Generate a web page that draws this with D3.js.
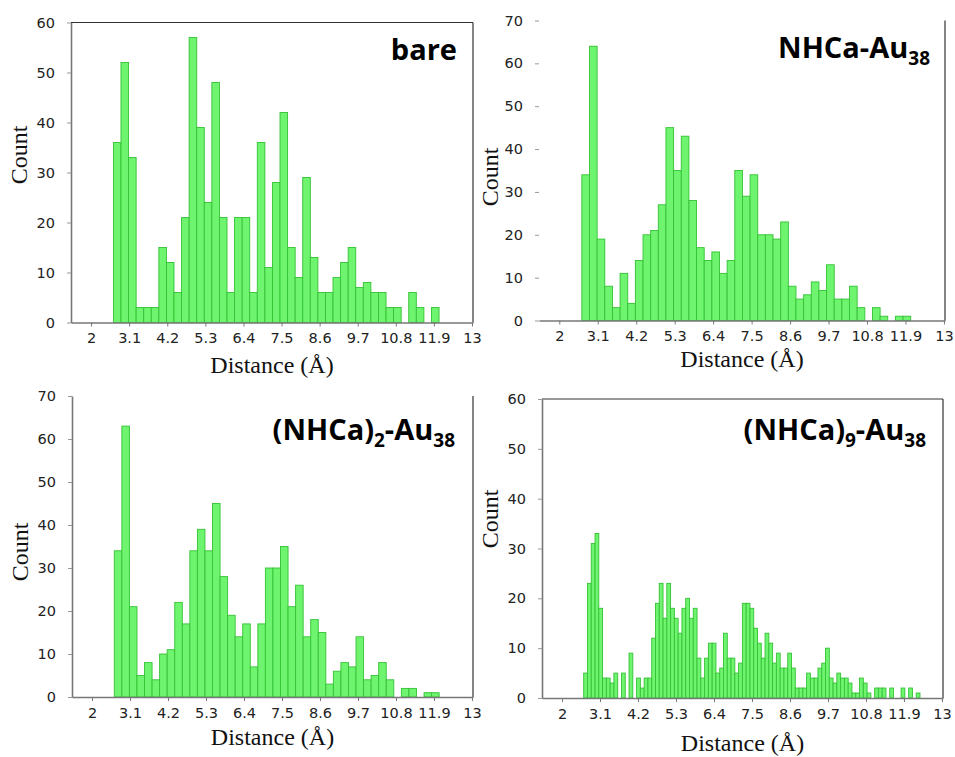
<!DOCTYPE html>
<html>
<head>
<meta charset="utf-8">
<script src="https://cdn.jsdelivr.net/npm/d3@7"></script>
<style>
  html, body { margin: 0; padding: 0; background: #fff; }
  svg { display: block; }
</style>
</head>
<body>
<svg id="chart" width="955" height="757"></svg>
<script>
// ---------------- data ----------------
const xTicks = [2, 3.1, 4.2, 5.3, 6.4, 7.5, 8.6, 9.7, 10.8, 11.9, 13];
const yTicks60 = [0, 10, 20, 30, 40, 50, 60];
const yTicks70 = [0, 10, 20, 30, 40, 50, 60, 70];

// histogram bins: first bin edge (Å) and bin width (Å)
const binStartCoarse = 2.645, binWidthCoarse = 0.2187;
const binStartFine = 2.627, binWidthFine = 0.1094;

const bareCounts = [36,52,33,3,3,3,15,12,6,21,57,39,24,48,21,6,21,21,6,36,11,28,42,15,9,29,13,6,6,9,12,15,7,8,6,6,3,3,0,6,3,0,3];
const nhca1Counts = [34,64,19,8,3,11,4,14,20,21,27,45,35,43,28,17,14,16,11,14,35,29,34,20,20,19,23,8,5,6,9,7,13,5,5,8,3,0,3,1,0,1,1];
const nhca2Counts = [34,63,21,5,8,4,10,11,22,17,34,39,34,45,28,19,14,17,7,17,30,30,35,21,26,14,18,15,3,6,8,7,14,4,5,8,4,0,2,2,0,1,1];
const nhca9Counts = [5,23,31,33,18,4,4,3,5,0,5,0,9,0,4,2,4,4,12,19,
                     23,16,23,18,16,13,18,20,16,18,8,4,8,11,11,5,6,13,8,8,
                     5,7,19,19,18,14,11,8,13,11,7,9,6,6,9,6,2,2,2,
                     5,4,4,6,7,10,4,3,5,4,4,3,1,1,4,3,1,0,2,2,2,0,2,0,0,2,0,2,0,1];

const xDomain = [1.42, 13.03];
const xLabel = "Distance (Å)";
const yLabel = "Count";

// ---------------- layout ----------------
const panels = [
  { counts: bareCounts, start: binStartCoarse, width: binWidthCoarse, yMax: 60, yTicks: yTicks60,
    x0: 71, x1: 473, yT: 22.5, yB: 322.5,
    title: [{t: "bare"}], titleX: 457, titleY: 60,
    frame: {left: true, top: true, right: true}, countX: 19, countY: 155, distY: 373 },
  { counts: nhca1Counts, start: binStartCoarse, width: binWidthCoarse, yMax: 70, yTicks: yTicks70,
    x0: 539, x1: 945, yT: 20.5, yB: 320.5,
    title: [{t: "NHCa-Au"}, {t: "38", sub: true}], titleX: 930, titleY: 58,
    frame: {left: false, top: false, right: true}, countX: 490, countY: 177, distY: 367 },
  { counts: nhca2Counts, start: binStartCoarse, width: binWidthCoarse, yMax: 70, yTicks: yTicks70,
    x0: 72, x1: 473, yT: 396, yB: 697,
    title: [{t: "(NHCa)"}, {t: "2", sub: true}, {t: "-Au"}, {t: "38", sub: true}], titleX: 455, titleY: 440,
    frame: {left: true, top: false, right: true}, countX: 20, countY: 552, distY: 745 },
  { counts: nhca9Counts, start: binStartFine, width: binWidthFine, yMax: 60, yTicks: yTicks60,
    x0: 542, x1: 943, yT: 399, yB: 698,
    title: [{t: "(NHCa)"}, {t: "9", sub: true}, {t: "-Au"}, {t: "38", sub: true}], titleX: 926, titleY: 440,
    frame: {left: true, top: true, right: true}, countX: 490, countY: 519, distY: 751 }
];

const svg = d3.select("#chart");
svg.append("rect").attr("width", 955).attr("height", 757).attr("fill", "#fff");

panels.forEach(p => {
  const g = svg.append("g");
  const x = d3.scaleLinear().domain(xDomain).range([p.x0, p.x1]);
  const y = d3.scaleLinear().domain([0, p.yMax]).range([p.yB, p.yT]);

  // bars
  const bins = p.counts.map((c, i) => ({ x0: p.start + i * p.width, x1: p.start + (i + 1) * p.width, c }))
                       .filter(d => d.c > 0);
  g.append("g").selectAll("rect").data(bins).join("rect")
    .attr("x", d => x(d.x0))
    .attr("width", d => x(d.x1) - x(d.x0))
    .attr("y", d => y(d.c))
    .attr("height", d => y(0) - y(d.c))
    .attr("fill", "#6ff46f")
    .attr("stroke", "#34c234")
    .attr("stroke-width", 0.9);

  // frame lines
  if (p.frame.top) {
    g.append("line").attr("x1", p.x0).attr("x2", p.x1).attr("y1", p.yT).attr("y2", p.yT)
      .attr("stroke", "#333").attr("stroke-width", 1.2);
  }
  if (p.frame.right) {
    g.append("line").attr("x1", p.x1).attr("x2", p.x1).attr("y1", p.yT).attr("y2", p.yB)
      .attr("stroke", "#333").attr("stroke-width", 1.2);
  }

  // x axis
  const xa = g.append("g").attr("transform", `translate(0,${p.yB})`)
    .call(d3.axisBottom(x).tickValues(xTicks).tickFormat(d => String(d))
      .tickSize(4).tickSizeOuter(0).tickPadding(6.5));
  xa.attr("font-family", "DejaVu Sans").attr("font-size", 14.5);
  xa.select(".domain").attr("stroke", "#777").attr("stroke-width", 1.6);
  xa.selectAll(".tick line").attr("stroke", "#777");
  xa.selectAll("text").style("font-family", "'DejaVu Sans'").style("font-size", "14.5px").attr("fill", "#222");

  // y axis
  const ya = g.append("g").attr("transform", `translate(${p.x0},0)`)
    .call(d3.axisLeft(y).tickValues(p.yTicks).tickFormat(d => String(d))
      .tickSize(4).tickSizeOuter(0).tickPadding(12));
  ya.attr("font-family", "DejaVu Sans").attr("font-size", 14.5);
  ya.select(".domain").attr("stroke", p.frame.left ? "#777" : "none").attr("stroke-width", 1.6);
  ya.selectAll(".tick line").attr("stroke", "#999");
  ya.selectAll("text").style("font-family", "'DejaVu Sans'").style("font-size", "14.5px").attr("fill", "#222");

  // axis titles
  g.append("text")
    .attr("transform", `translate(${p.countX},${p.countY}) rotate(-90)`)
    .attr("text-anchor", "middle").attr("dy", "0.35em")
    .attr("font-family", "Liberation Serif").attr("font-size", 24).attr("fill", "#111")
    .text(yLabel);
  g.append("text")
    .attr("x", (p.x0 + p.x1) / 2).attr("y", p.distY)
    .attr("text-anchor", "middle")
    .attr("font-family", "Liberation Serif").attr("font-size", 24).attr("fill", "#111")
    .text(xLabel);

  // panel title
  const t = g.append("text")
    .attr("x", p.titleX).attr("y", p.titleY)
    .attr("text-anchor", "end")
    .attr("font-family", "Open Sans").attr("font-weight", "bold").attr("font-size", 29).attr("fill", "#000");
  let shifted = false;
  p.title.forEach(part => {
    const ts = t.append("tspan").text(part.t);
    if (part.sub && !shifted) { ts.attr("dy", 7).attr("font-size", 19); shifted = true; }
    else if (part.sub) { ts.attr("font-size", 19); }
    else if (!part.sub && shifted) { ts.attr("dy", -7); shifted = false; }
  });
});
</script>
</body>
</html>
